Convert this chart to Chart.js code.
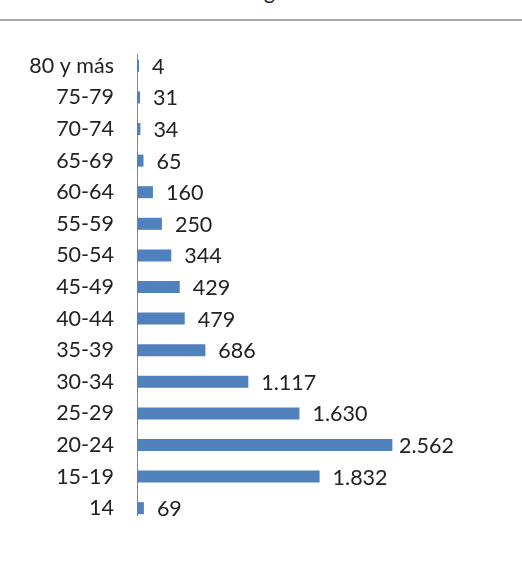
<!DOCTYPE html>
<html>
<head>
<meta charset="utf-8">
<script src="https://cdn.jsdelivr.net/npm/chart.js@4/dist/chart.umd.min.js"></script>
<style>
  body { margin: 0; background: #fff; }
  #wrap { position: relative; width: 522px; height: 562px; overflow: hidden; }
  #rule { position: absolute; left: 0; top: 19px; width: 522px; height: 2px; background: #a6a6a6; }
  #cut { position: absolute; left: 264px; top: -19px; font: 21px Lato, sans-serif; line-height: 20px; color: #222; }
  canvas { position: absolute; left: 0; top: 0; }
</style>
</head>
<body>
<div id="wrap">
  <div id="cut">g</div>
  <div id="rule"></div>
  <canvas id="c" width="522" height="562"></canvas>
</div>
<script>
// grupos de edad (de arriba a abajo)
const ageGroups = ['80 y más', '75-79', '70-74', '65-69', '60-64', '55-59', '50-54',
  '45-49', '40-44', '35-39', '30-34', '25-29', '20-24', '15-19', '14'];
const counts = [4, 31, 34, 65, 160, 250, 344, 429, 479, 686, 1117, 1630, 2562, 1832, 69];
const xMax = 3000;

const FONT = 'Lato, "Open Sans", sans-serif';
const FONT_SIZE = 21.5;

// miles con punto
function fmt(v) {
  return String(v).replace(/\B(?=(\d{3})+(?!\d))/g, '.');
}

// etiquetas de valor al final de cada barra
const valueLabels = {
  id: 'valueLabels',
  afterDatasetsDraw(chart) {
    const ctx = chart.ctx;
    const meta = chart.getDatasetMeta(0);
    ctx.save();
    ctx.font = FONT_SIZE + 'px ' + FONT;
    ctx.fillStyle = '#222';
    ctx.textBaseline = 'middle';
    ctx.textAlign = 'left';
    meta.data.forEach((bar, i) => {
      const txt = fmt(counts[i]);
      const w = ctx.measureText(txt).width;
      let x = bar.x + 13;
      if (x + w > 454) x = 454 - w; // no salir del area
      ctx.fillText(txt, x, bar.y + 1);
    });
    ctx.restore();
  }
};

// linea del eje vertical
const axisLine = {
  id: 'axisLine',
  beforeDatasetsDraw(chart) {
    const y = chart.scales.y;
    const ctx = chart.ctx;
    const x = Math.round(chart.chartArea.left) + 0.5;
    ctx.save();
    ctx.strokeStyle = '#868686';
    ctx.lineWidth = 1;
    ctx.beginPath();
    ctx.moveTo(x, y.getPixelForValue(0) - 12);
    ctx.lineTo(x, y.getPixelForValue(ageGroups.length - 1) + 8);
    ctx.stroke();
    ctx.restore();
  }
};

new Chart(document.getElementById('c'), {
  type: 'bar',
  data: {
    labels: ageGroups,
    datasets: [{
      data: counts,
      backgroundColor: '#4f81bd',
      borderWidth: 0,
      minBarLength: 2,
      barPercentage: 0.76,
      categoryPercentage: 0.5
    }]
  },
  options: {
    indexAxis: 'y',
    responsive: false,
    animation: false,
    layout: { padding: { top: 50, bottom: 38, left: 0, right: 86 } },
    plugins: {
      legend: { display: false },
      tooltip: { enabled: false }
    },
    scales: {
      x: {
        display: false,
        min: 0,
        max: xMax
      },
      y: {
        grid: { display: false, drawTicks: false },
        border: { display: false },
        ticks: {
          padding: 23,
          color: '#222',
          font: { family: FONT, size: FONT_SIZE }
        },
        afterFit(scale) { scale.width = 137; }
      }
    }
  },
  plugins: [axisLine, valueLabels]
});
</script>
</body>
</html>
